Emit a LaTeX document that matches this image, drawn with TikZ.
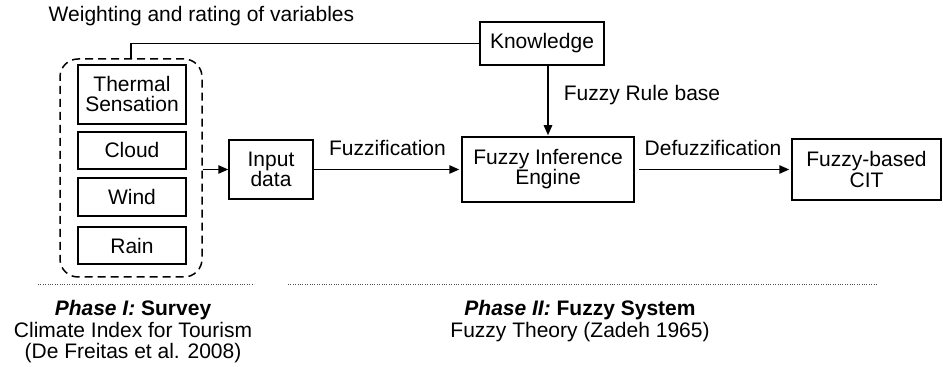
\documentclass[tikz,border=0pt]{standalone}
\usepackage{fontspec}
\setmainfont{Liberation Sans}
\usetikzlibrary{arrows.meta}

\begin{document}
\begin{tikzpicture}[
  x=0.5pt, y=-0.5pt,
  font=\fontsize{10.5}{10}\selectfont,
  >={Triangle[length=5pt, width=4.2pt]},
  line width=0.75pt,
  box/.style={draw, align=center, inner sep=0pt},
  var/.style={box, minimum width=54pt},
  lbl/.style={inner sep=0pt},
  phase/.style={align=center, inner sep=0pt, anchor=north, font=\fontsize{10.5}{10.75}\selectfont},
  sep/.style={dash pattern=on 0.4pt off 0.8pt, line width=0.4pt, black!70}
]
  \useasboundingbox (0,0) rectangle (943,367);

  % Survey variables
  \node[var, minimum height=29.5pt] (thermal) at (132,94.5)  {Thermal\\Sensation};
  \node[var, minimum height=18.5pt] (cloud)   at (132,150.5) {Cloud};
  \node[var, minimum height=19pt]   (wind)    at (132,197)   {Wind};
  \node[var, minimum height=18.5pt] (rain)    at (132,245.5) {Rain};
  \node[draw, dash pattern=on 4pt off 2.5pt, rounded corners=9pt,
        minimum width=71pt, minimum height=109pt] (vars) at (131,168) {};

  % Fuzzy system
  \node[box, minimum width=42pt, minimum height=29.5pt] (inp)  at (271,169.5)   {Input\\data};
  \node[box, minimum width=86pt, minimum height=32.5pt] (fie)  at (548,169.5)   {Fuzzy Inference\\Engine};
  \node[box, minimum width=62pt, minimum height=21.5pt] (know) at (542,43.5)    {Knowledge};
  \node[box, minimum width=74.5pt, minimum height=30.5pt] (cit) at (866.5,169.5) {Fuzzy-based\\CIT};

  \node[lbl, anchor=base west] (weight) at (48,22) {Weighting and rating of variables};

  % Connectors
  \draw (vars.north) |- (know.west);
  \draw[->] (vars.east |- inp.west) -- (inp.west);
  \draw[->, shorten >=1pt] (inp.east) -- node[lbl, above=6.5pt] {Fuzzification} (fie.west);
  \draw[->, shorten >=0.5pt] (fie.north |- know.south) -- node[lbl, right=7.5pt, pos=0.41] {Fuzzy Rule base} (fie.north);
  \draw[->, shorten <=2pt, shorten >=1pt] (fie.east) -- node[lbl, above=6.5pt] {Defuzzification} (cit.west);

  % Phase separators
  \coordinate (s1a) at (38,284);
  \coordinate (s1b) at (254,284);
  \coordinate (s2a) at (288,284);
  \coordinate (s2b) at (878,284);
  \draw[sep] (s1a) -- (s1b);
  \draw[sep] (s2a) -- (s2b);

  \node[phase] (phase1) at (133,300)
    {\textbf{\textit{Phase I:}} \textbf{Survey}\\Climate Index for Tourism\\(De Freitas et al. 2008)};
  \node[phase] (phase2) at (580,300)
    {\textbf{\textit{Phase II:}} \textbf{Fuzzy System}\\Fuzzy Theory (Zadeh 1965)};
\end{tikzpicture}
\end{document}
